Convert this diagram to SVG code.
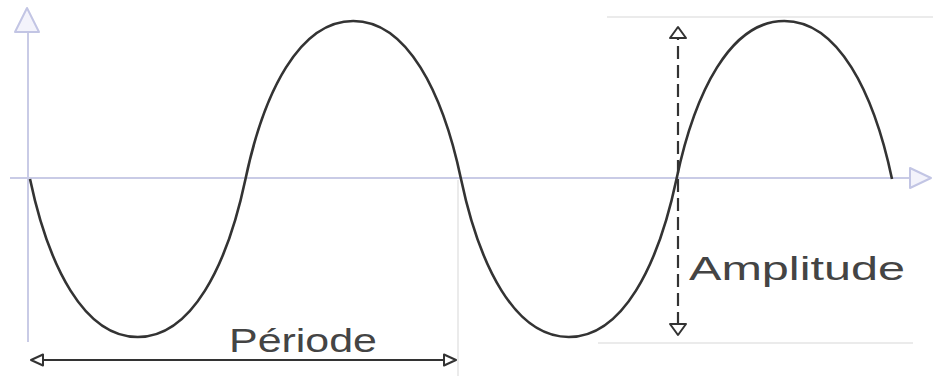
<svg xmlns="http://www.w3.org/2000/svg" width="933" height="378" viewBox="0 0 933 378">
<defs>
<style>
.axis{stroke:#c9cbe6;stroke-width:2;fill:none}
.axhead{stroke:#c2c5e4;stroke-width:2;fill:#f3f3fb;stroke-linejoin:round}
.guide{stroke:#e4e4e4;stroke-width:1.5;fill:none}
.wave{stroke:#333;stroke-width:2.6;fill:none}
.dim{stroke:#333;stroke-width:2.2;fill:none}
.lbl{font-family:"Liberation Sans","DejaVu Sans",sans-serif;font-size:34px;fill:#444}
</style>
<marker id="openArrow" viewBox="0 0 14 14" refX="13" refY="7" markerWidth="14" markerHeight="14" markerUnits="userSpaceOnUse" orient="auto-start-reverse">
<path d="M1,1.5 L13,7 L1,12.5 Z" fill="#fff" stroke="#333" stroke-width="2" stroke-linejoin="round"/>
</marker>
<marker id="ampArrow" viewBox="0 0 14 22" refX="12" refY="11" markerWidth="14" markerHeight="22" markerUnits="userSpaceOnUse" orient="auto-start-reverse">
<path d="M1,3 L12,11 L1,19 Z" fill="#fff" stroke="#333" stroke-width="2" stroke-linejoin="round"/>
</marker>
</defs>
<rect width="933" height="378" fill="#fff"/>
<g id="guides">
<line class="guide" x1="607" y1="17" x2="933" y2="17"/>
<line class="guide" x1="598" y1="343" x2="913" y2="343"/>
<line class="guide" x1="458" y1="180" x2="458" y2="376"/>
</g>
<g id="axes">
<line class="axis" x1="28" y1="32" x2="28" y2="342"/>
<polygon class="axhead" points="27,8 39,32 15,32"/>
<line class="axis" x1="10" y1="178" x2="910" y2="178"/>
<polygon class="axhead" points="931,178 910,168 910,188"/>
</g>
<g id="wave">
<path class="wave" d="M30,179 c18.3,86.9 53.9,158 107.75,158 c53.85,0 89.45,-71.1 107.75,-158 c18.3,-86.9 53.9,-158 107.75,-158 c53.85,0 89.45,71.1 107.75,158 c18.3,86.9 53.9,158 107.75,158 c53.85,0 89.45,-71.1 107.75,-158 c18.3,-86.9 53.9,-158 107.75,-158 c53.85,0 89.45,71.1 107.75,158"/>
</g>
<g id="connectors">
<line class="dim" x1="31" y1="360" x2="456" y2="360" marker-start="url(#openArrow)" marker-end="url(#openArrow)"/>
<line class="dim" x1="678" y1="27" x2="678" y2="335" stroke-width="2" stroke-dasharray="13,6" marker-start="url(#ampArrow)" marker-end="url(#ampArrow)"/>
</g>
<g id="periode">
<text class="lbl" x="229" y="352" textLength="148" lengthAdjust="spacingAndGlyphs">Période</text>
</g>
<g id="amplitude">
<text class="lbl" x="689" y="280" textLength="216" lengthAdjust="spacingAndGlyphs">Amplitude</text>
</g>
</svg>
